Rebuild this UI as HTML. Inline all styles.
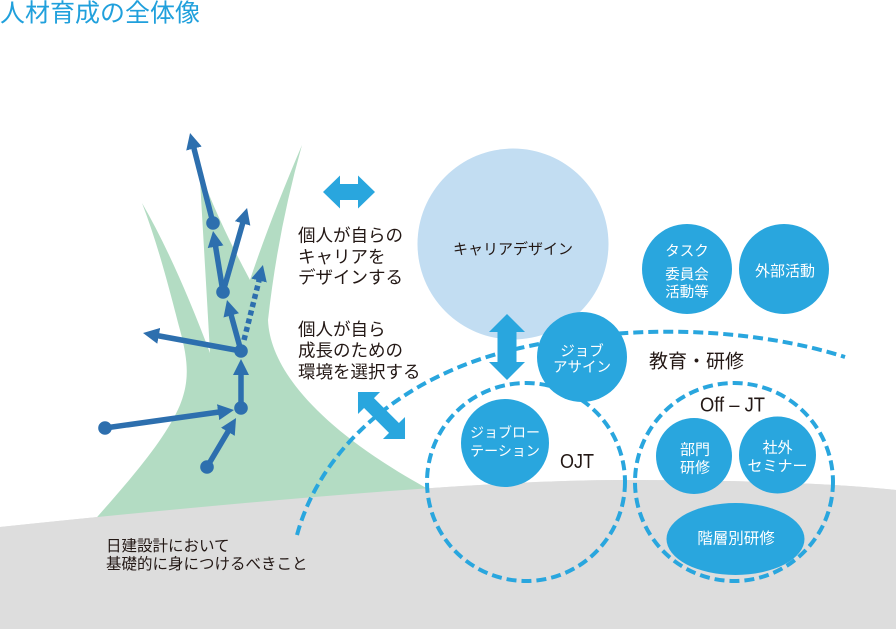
<!DOCTYPE html>
<html><head><meta charset="utf-8"><style>
html,body{margin:0;padding:0;background:#fff;}
svg{display:block;}
text{font-family:"Liberation Sans","Noto Sans CJK JP",sans-serif;}
</style></head><body>
<svg width="896" height="629" viewBox="0 0 896 629" xmlns="http://www.w3.org/2000/svg">
<defs>
<marker id="ah" viewBox="0 0 16 16" refX="2" refY="8" markerWidth="16" markerHeight="16" markerUnits="userSpaceOnUse" orient="auto"><path d="M0,0 L16,8 L0,16 Z" fill="#2d6fae"/></marker>
</defs>
<rect width="896" height="629" fill="#fff"/>
<!-- ground -->
<path d="M0,527 Q450,480 620,480 Q800,480 896,490 L896,629 L0,629 Z" fill="#dddddd"/>
<!-- green plant -->
<path d="M90,525 C130,480 165,440 180,405 C190,380 188,360 180,330 C172,300 160,250 142,203 Q175,260 210,353 L207,300 L200,180 L197,163 Q215,215 250,280 Q270,220 302,145 Q278,230 268,320 C270,370 320,430 430,490 L430,505 L90,540 Z" fill="#b3dcc3"/>
<path d="M0,527 Q450,480 620,480 Q800,480 896,490 L896,629 L0,629 Z" fill="#dddddd"/>
<!-- big light circle -->
<circle cx="513" cy="244" r="95.5" fill="#c2ddf2"/>
<!-- diagonal double arrow -->
<polygon transform="translate(381.5,415.5) rotate(45)" points="-33.25,0 -17.65,-15.6 -17.65,-7 17.65,-7 17.65,-15.6 33.25,0 17.65,15.6 17.65,7 -17.65,7 -17.65,15.6" fill="#29a6de"/>
<!-- big dashed arc -->
<path d="M297,535 C320,450 400,375 520,348 C640,321 760,330 845,357" fill="none" stroke="#29a6de" stroke-width="4" stroke-dasharray="10 5"/>
<!-- dashed circles -->
<circle cx="526" cy="482" r="99" fill="none" stroke="#29a6de" stroke-width="4" stroke-dasharray="10 5"/>
<circle cx="734" cy="482" r="99" fill="none" stroke="#29a6de" stroke-width="4" stroke-dasharray="10 5"/>
<!-- blue circles -->
<circle cx="687" cy="269" r="45" fill="#29a6de"/>
<circle cx="784" cy="269" r="45" fill="#29a6de"/>
<circle cx="582" cy="357" r="45" fill="#29a6de"/>
<circle cx="505" cy="443" r="44" fill="#29a6de"/>
<circle cx="694" cy="456" r="38" fill="#29a6de"/>
<circle cx="777.5" cy="455" r="38.5" fill="#29a6de"/>
<ellipse cx="735.5" cy="539" rx="69" ry="36" fill="#29a6de"/>
<!-- horizontal double arrow -->
<polygon points="323,192 340,175.5 340,184 358,184 358,175.5 375,192 358,208.5 358,200 340,200 340,208.5" fill="#29a6de"/>
<!-- vertical double arrow -->
<polygon points="507,314 525,332 516.5,332 516.5,362 525,362 507,380 489,362 497.5,362 497.5,332 489,332" fill="#29a6de"/>
<!-- dark arrows -->
<g stroke="#2d6fae" stroke-width="5.5" fill="none">
<line x1="213" y1="223" x2="193.5" y2="146.6" marker-end="url(#ah)"/>
<line x1="223" y1="292" x2="215.3" y2="244.8" marker-end="url(#ah)"/>
<line x1="223" y1="292" x2="243.2" y2="221.5" marker-end="url(#ah)"/>
<line x1="241" y1="351" x2="230.7" y2="313.5" marker-end="url(#ah)"/>
<line x1="244" y1="340" x2="259.5" y2="278.6" stroke-dasharray="5 3.5" marker-end="url(#ah)"/>
<line x1="241" y1="351" x2="156.8" y2="335.5" marker-end="url(#ah)"/>
<line x1="241" y1="408" x2="241" y2="373" marker-end="url(#ah)"/>
<line x1="105" y1="428" x2="220.1" y2="411.9" marker-end="url(#ah)"/>
<line x1="207" y1="467" x2="228.9" y2="430.1" marker-end="url(#ah)"/>
</g>
<g fill="#2d6fae">
<circle cx="213" cy="223" r="6.8"/>
<circle cx="223" cy="292" r="6.8"/>
<circle cx="241" cy="351" r="6.8"/>
<circle cx="241" cy="408" r="6.8"/>
<circle cx="105" cy="428" r="6.8"/>
<circle cx="207" cy="467" r="6.8"/>
</g>
<!-- title -->
<text x="0" y="21.5" font-size="25" fill="#20a0dc">人材育成の全体像</text>
<!-- left texts -->
<g fill="#231815" font-size="17.5">
<text x="298" y="241.5">個人が自らの</text>
<text x="298" y="263">キャリアを</text>
<text x="298" y="283.5">デザインする</text>
<text x="298" y="335.5">個人が自ら</text>
<text x="298" y="356.5">成長のための</text>
<text x="298" y="378">環境を選択する</text>
</g>
<g fill="#231815" font-size="15.5">
<text x="106" y="551">日建設計において</text>
<text x="106" y="569">基礎的に身につけるべきこと</text>
</g>
<text x="649" y="367.5" font-size="19" fill="#231815">教育・研修</text>
<text x="700" y="411.5" font-size="20" fill="#231815" textLength="65" lengthAdjust="spacingAndGlyphs">Off – JT</text>
<text x="560" y="468" font-size="20" fill="#231815" textLength="34" lengthAdjust="spacingAndGlyphs">OJT</text>
<text x="513" y="254" font-size="15" fill="#231815" text-anchor="middle">キャリアデザイン</text>
<!-- white labels -->
<g fill="#fff" font-size="14.5" text-anchor="middle">
<text x="687" y="256">タスク</text>
<text x="687" y="279.5">委員会</text>
<text x="687" y="297">活動等</text>
<text x="785" y="276" font-size="15">外部活動</text>
<text x="582" y="356">ジョブ</text>
<text x="582" y="372">アサイン</text>
<text x="505" y="437.5" font-size="14">ジョブロー</text>
<text x="505" y="456" font-size="14">テーション</text>
<text x="695" y="454.5" font-size="15">部門</text>
<text x="695" y="472.5" font-size="15">研修</text>
<text x="777.5" y="452.5" font-size="15">社外</text>
<text x="777.5" y="471" font-size="15">セミナー</text>
<text x="736" y="543.5" font-size="15.5">階層別研修</text>
</g>
</svg>
</body></html>
